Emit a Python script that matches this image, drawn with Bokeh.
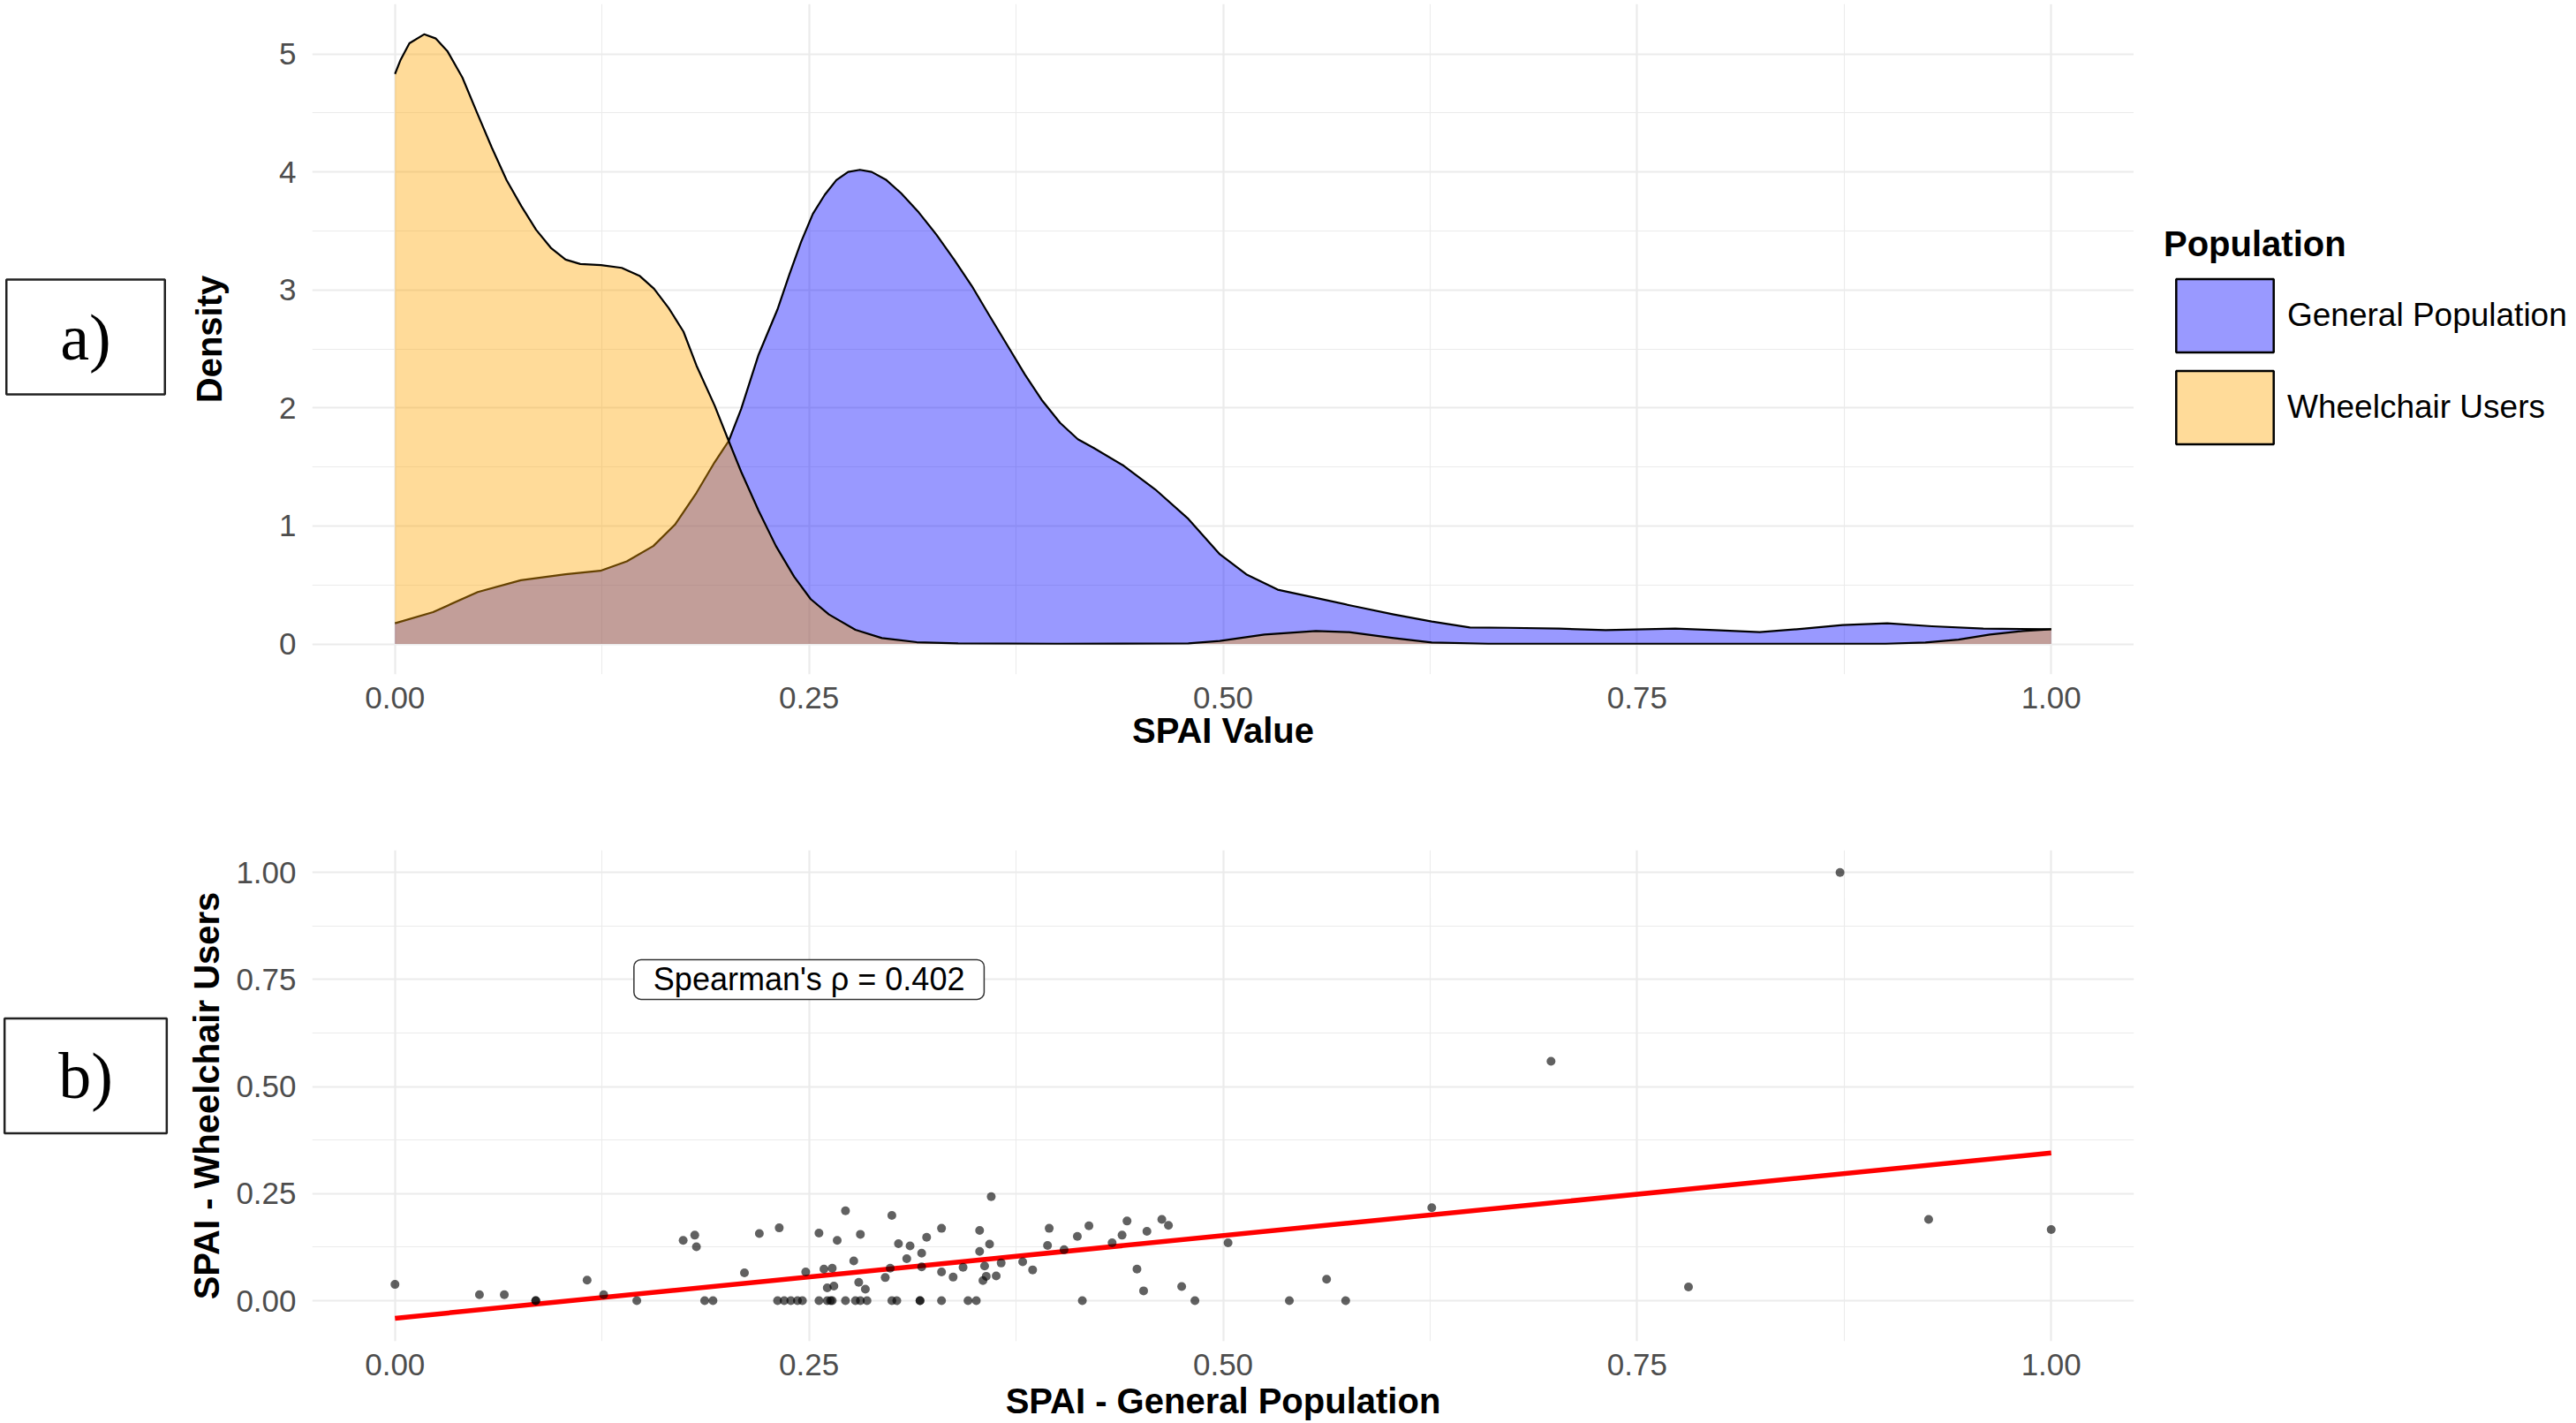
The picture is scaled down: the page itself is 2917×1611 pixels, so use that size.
from bokeh.plotting import figure
from bokeh.layouts import column, row
from bokeh.models import Range1d, FixedTicker, PrintfTickFormatter, Legend, Label
from bokeh.embed import file_html
from bokeh.resources import INLINE

# --- density curves ---
gen_x = [0.0, 0.023, 0.050, 0.076, 0.103, 0.124, 0.140, 0.156, 0.169, 0.182,
         0.193, 0.2015, 0.209, 0.2195, 0.2309, 0.2381, 0.2452, 0.2523, 0.2595,
         0.2665, 0.2736, 0.2807, 0.2878, 0.2967, 0.3056, 0.3163, 0.3269, 0.3376,
         0.3483, 0.3589, 0.3696, 0.3803, 0.3909, 0.4016, 0.4123, 0.422, 0.440,
         0.459, 0.479, 0.498, 0.514, 0.533, 0.556, 0.579, 0.603, 0.626, 0.649,
         0.672, 0.703, 0.731, 0.773, 0.797, 0.824, 0.851, 0.874, 0.901, 0.928,
         0.959, 1.0]
gen_y = [0.175, 0.27, 0.44, 0.54, 0.59, 0.62, 0.70, 0.83, 1.01, 1.28,
         1.54, 1.72, 1.99, 2.45, 2.833, 3.13, 3.407, 3.644, 3.806,
         3.931, 4.0, 4.018, 4.0, 3.931, 3.819, 3.656, 3.469, 3.257,
         3.033, 2.783, 2.534, 2.284, 2.06, 1.873, 1.735, 1.66, 1.51,
         1.31, 1.06, 0.76, 0.59, 0.46, 0.39, 0.32, 0.25, 0.19, 0.14,
         0.137, 0.13, 0.117, 0.13, 0.117, 0.10, 0.13, 0.16, 0.175, 0.15,
         0.13, 0.125]

wc_x = [0.0, 0.0034, 0.0087, 0.0176, 0.0247, 0.0318, 0.0407, 0.0496, 0.0585,
        0.0674, 0.0763, 0.0852, 0.0941, 0.103, 0.1119, 0.1244, 0.1369, 0.1476,
        0.1564, 0.1653, 0.1742, 0.182, 0.193, 0.2015, 0.209, 0.2195, 0.230,
        0.241, 0.251, 0.262, 0.278, 0.294, 0.315, 0.340, 0.400, 0.479, 0.498,
        0.525, 0.556, 0.576, 0.603, 0.626, 0.660, 0.900, 0.924, 0.944, 0.963,
        0.983, 1.0]
wc_y = [4.83, 4.95, 5.09, 5.166, 5.13, 5.02, 4.80, 4.50, 4.205,
        3.93, 3.71, 3.51, 3.357, 3.257, 3.22, 3.21, 3.187, 3.12,
        3.01, 2.846, 2.646, 2.36, 2.02, 1.72, 1.46, 1.13, 0.83,
        0.57, 0.38, 0.25, 0.12, 0.05, 0.015, 0.005, 0.002, 0.005, 0.025,
        0.08, 0.11, 0.10, 0.05, 0.012, 0.002, 0.002, 0.012, 0.037, 0.08,
        0.11, 0.125]

# --- paired SPAI values ---
spai_gen = [0.000, 0.051, 0.066, 0.085, 0.085, 0.116, 0.126, 0.146, 0.174, 0.181,
            0.182, 0.187, 0.192, 0.211, 0.220, 0.232, 0.231, 0.235, 0.239, 0.243,
            0.246, 0.248, 0.256, 0.256, 0.261, 0.264, 0.263, 0.259, 0.264, 0.261,
            0.265, 0.267, 0.272, 0.272, 0.277, 0.281, 0.278, 0.281, 0.285, 0.280,
            0.284, 0.296, 0.299, 0.300, 0.300, 0.303, 0.304, 0.309, 0.311, 0.318,
            0.318, 0.317, 0.317, 0.321, 0.330, 0.330, 0.330, 0.337, 0.343, 0.346,
            0.351, 0.353, 0.353, 0.356, 0.355, 0.357, 0.359, 0.360, 0.363, 0.366,
            0.379, 0.385, 0.394, 0.395, 0.404, 0.412, 0.415, 0.419, 0.433, 0.439,
            0.442, 0.448, 0.452, 0.454, 0.463, 0.467, 0.475, 0.483, 0.503, 0.540,
            0.5625, 0.574, 0.626, 0.698, 0.781, 0.8725, 0.926, 1.000]
spai_wc = [0.038, 0.014, 0.014, 0.000, 0.000, 0.048, 0.014, 0.000, 0.141, 0.153,
           0.126, 0.000, 0.000, 0.065, 0.157, 0.170, 0.000, 0.000, 0.000, 0.000,
           0.000, 0.067, 0.158, 0.000, 0.000, 0.000, 0.000, 0.074, 0.076, 0.030,
           0.034, 0.141, 0.210, 0.000, 0.093, 0.155, 0.000, 0.000, 0.000, 0.043,
           0.027, 0.054, 0.076, 0.199, 0.000, 0.000, 0.133, 0.098, 0.128, 0.111,
           0.079, 0.000, 0.000, 0.148, 0.169, 0.067, 0.000, 0.055, 0.078, 0.000,
           0.000, 0.164, 0.115, 0.081, 0.047, 0.057, 0.132, 0.243, 0.058, 0.088,
           0.091, 0.072, 0.129, 0.169, 0.119, 0.150, 0.000, 0.175, 0.135, 0.153,
           0.186, 0.074, 0.023, 0.162, 0.190, 0.176, 0.033, 0.000, 0.135, 0.000,
           0.050, 0.000, 0.217, 0.559, 0.032, 1.000, 0.190, 0.166]

# linear fit drawn in red
fit_x = [0.0, 1.0]
fit_y = [-0.041, 0.345]

x_ticks = [0, 0.25, 0.5, 0.75, 1.0]
x_minor = [0.125, 0.375, 0.625, 0.875]
dens_ticks = [0, 1, 2, 3, 4, 5]
dens_minor = [0.5, 1.5, 2.5, 3.5, 4.5]
wc_ticks = [0, 0.25, 0.5, 0.75, 1.0]
wc_minor = [0.125, 0.375, 0.625, 0.875]

groups = ["General Population", "Wheelchair Users"]
rho_text = "Spearman's \u03c1 = 0.402"

FONT = "Liberation Sans"
NAN = float("nan")
TAG_W, LEG_W = 198, 498
TOP_BORDER, TOP_FRAME, TOP_BOTTOM = 4, 759, 117
BOT_BORDER, BOT_FRAME, BOT_BOTTOM = 82, 556, 88


def style(p):
    p.background_fill_color = "white"
    p.border_fill_color = "white"
    p.outline_line_color = None
    p.grid.grid_line_color = "#EBEBEB"
    p.grid.grid_line_width = 2.2
    p.grid.minor_grid_line_color = "#EBEBEB"
    p.grid.minor_grid_line_width = 1.1
    p.axis.axis_line_color = None
    p.axis.major_tick_line_color = None
    p.axis.minor_tick_line_color = None
    p.axis.major_tick_out = 0
    p.axis.major_tick_in = 0
    p.axis.major_label_text_font = FONT
    p.axis.major_label_text_font_size = "35px"
    p.axis.major_label_text_color = "#4D4D4D"
    p.axis.axis_label_text_font = FONT
    p.axis.axis_label_text_font_size = "40px"
    p.axis.axis_label_text_font_style = "bold"
    p.axis.axis_label_text_color = "black"
    p.xaxis.major_label_standoff = 10
    p.yaxis.major_label_standoff = 14
    p.xaxis.ticker = FixedTicker(ticks=x_ticks, minor_ticks=x_minor)
    p.xaxis.formatter = PrintfTickFormatter(format="%.2f")


def side_fig(width, top, frame_h, bottom):
    # blank companion figure whose frame lines up with the main plot
    s = figure(frame_width=width, frame_height=frame_h,
               x_range=Range1d(0, 1), y_range=Range1d(0, 1),
               min_border_left=0, min_border_right=0,
               min_border_top=top, min_border_bottom=bottom,
               x_axis_location=None, y_axis_location=None,
               toolbar_location=None, output_backend="svg")
    s.outline_line_color = None
    s.background_fill_color = "white"
    s.border_fill_color = "white"
    s.grid.visible = False
    return s


def tag_fig(text, top, frame_h, bottom, cy):
    t = side_fig(TAG_W, top, frame_h, bottom)
    t.add_layout(Label(x=96.5, y=cy, x_units="screen", y_units="screen",
                       text=text, text_align="center", text_baseline="middle",
                       text_font="Liberation Serif", text_font_size="74px",
                       text_color="black", background_fill_color="white",
                       border_line_color="#222222", border_line_width=2.5,
                       padding=(61, 24)))
    return t


# --- a) density plot ---
p1 = figure(frame_width=2063, frame_height=TOP_FRAME,
            x_range=Range1d(-0.05, 1.05), y_range=Range1d(-0.258, 5.423),
            min_border_left=155, min_border_right=0,
            min_border_top=TOP_BORDER, min_border_bottom=TOP_BOTTOM,
            toolbar_location=None, output_backend="svg")
style(p1)
p1.yaxis.ticker = FixedTicker(ticks=dens_ticks, minor_ticks=dens_minor)
p1.yaxis.formatter = PrintfTickFormatter(format="%d")
p1.yaxis.axis_label_standoff = 54
p1.xaxis.axis_label_standoff = 0
p1.xaxis.axis_label = "SPAI Value"
p1.yaxis.axis_label = "Density"

p1.varea(x=gen_x, y1=0, y2=gen_y, fill_color="blue", fill_alpha=0.4)
p1.line(gen_x, gen_y, line_color="black", line_width=2.2, line_join="round")
p1.varea(x=wc_x, y1=0, y2=wc_y, fill_color="orange", fill_alpha=0.4)
p1.line(wc_x, wc_y, line_color="black", line_width=2.2, line_join="round")

# legend lives in its own blank figure to the right of the plot;
# its key renderers hold a single NaN row so only the legend swatch shows
leg = side_fig(LEG_W, TOP_BORDER, TOP_FRAME, TOP_BOTTOM)
key_gen = leg.quad(left=[NAN], right=[NAN], top=[NAN], bottom=[NAN],
                   fill_color="blue", fill_alpha=0.4,
                   line_color="black", line_width=2.5)
key_wc = leg.quad(left=[NAN], right=[NAN], top=[NAN], bottom=[NAN],
                  fill_color="orange", fill_alpha=0.4,
                  line_color="black", line_width=2.5)
legend = Legend(items=[(groups[0], [key_gen]), (groups[1], [key_wc])],
                title="Population", location=(34, 250),
                glyph_width=138, glyph_height=104, spacing=0,
                label_standoff=2, padding=4, margin=0,
                border_line_color=None, background_fill_alpha=0,
                title_text_font=FONT, title_text_font_size="40px",
                title_text_font_style="bold", title_text_color="black",
                title_standoff=6,
                label_text_font=FONT, label_text_font_size="37px",
                label_text_color="black")
leg.add_layout(legend)

tag_a = tag_fig("a)", TOP_BORDER, TOP_FRAME, TOP_BOTTOM, 382)

# --- b) scatter plot ---
p2 = figure(frame_width=2063, frame_height=BOT_FRAME,
            x_range=Range1d(-0.05, 1.05), y_range=Range1d(-0.0948, 1.052),
            min_border_left=155, min_border_right=LEG_W,
            min_border_top=BOT_BORDER, min_border_bottom=BOT_BOTTOM,
            toolbar_location=None, output_backend="svg")
style(p2)
p2.yaxis.ticker = FixedTicker(ticks=wc_ticks, minor_ticks=wc_minor)
p2.yaxis.formatter = PrintfTickFormatter(format="%.2f")
p2.yaxis.axis_label_standoff = 8
p2.xaxis.axis_label_standoff = 4
p2.xaxis.axis_label = "SPAI - General Population"
p2.yaxis.axis_label = "SPAI - Wheelchair Users"

p2.line(fit_x, fit_y, line_color="red", line_width=5.5)
p2.scatter(spai_gen, spai_wc, size=10, fill_color="black", fill_alpha=0.62,
           line_color=None)

p2.add_layout(Label(x=0.25, y=0.75, text=rho_text,
                    text_align="center", text_baseline="middle",
                    text_font=FONT, text_font_size="36px", text_color="black",
                    background_fill_color="white",
                    border_line_color="#333333", border_line_width=1.5,
                    padding=(22, 2), border_radius=8))

tag_b = tag_fig("b)", BOT_BORDER, BOT_FRAME, BOT_BOTTOM, 300.5)

layout = column(row(tag_a, p1, leg), row(tag_b, p2))

open("out.html", "w").write(file_html(layout, INLINE))
